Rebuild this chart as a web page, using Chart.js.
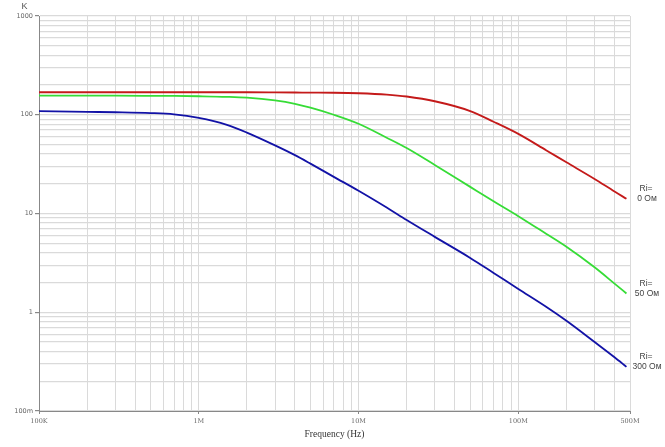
<!DOCTYPE html>
<html lang="ru">
<head>
  <meta charset="UTF-8">
  <title>K(f)</title>
  <script src="https://cdn.jsdelivr.net/npm/chart.js"></script>
  <style>
    body { margin: 0; padding: 0; background: #fff; }
    #wrap { width: 665px; height: 447px; }
  </style>
</head>
<body>
  <div id="wrap"><canvas id="grafico"></canvas></div>
  <script>
    // частоты, Гц
    const freqs = [1e5, 2e5, 3e5, 5e5, 7e5, 1e6, 1.5e6, 2e6, 3e6, 4e6, 5e6, 7e6, 1e7, 1.5e7, 2e7, 3e7, 5e7, 7e7, 1e8, 1.5e8, 2e8, 3e8, 4e8, 4.75e8];
    const k0 = [169, 169, 169, 169, 169, 169, 169, 169, 168.5, 168, 167.5, 167, 165, 160, 153, 137, 109, 85, 64, 43.5, 33, 22.4, 16.7, 14.1];
    const k50 = [156, 156, 156, 155.5, 155, 154, 152, 149, 139.5, 129, 118, 100, 81, 58.5, 46, 31, 18.6, 13.3, 9.4, 6.2, 4.6, 2.85, 1.95, 1.55];
    const k300 = [109, 107, 106, 104, 101, 93, 79, 66, 49, 39, 32, 23.5, 17, 11.5, 8.6, 5.8, 3.55, 2.5, 1.72, 1.13, 0.82, 0.5, 0.35, 0.28];
    const seriesNames = [['Ri=', '0 Ом'], ['Ri=', '50 Ом'], ['Ri=', '300 Ом']];

    const xLabels = {1e5: '100K', 1e6: '1M', 1e7: '10M', 1e8: '100M', 5e8: '500M'};
    const yLabels = {0.1: '100m', 1: '1', 10: '10', 100: '100', 1000: '1000'};

    function decadeTicks(min, max) {
      const out = [];
      for (let e = Math.floor(Math.log10(min)); e <= Math.ceil(Math.log10(max)); e++) {
        for (let s = 1; s < 10; s++) {
          const v = +(s * Math.pow(10, e)).toPrecision(6);
          if (v >= min && v <= max) out.push({value: v});
        }
      }
      return out;
    }

    const endLabels = {
      id: 'endLabels',
      afterDraw(chart) {
        const ctx = chart.ctx;
        ctx.save();
        ctx.font = '8.5px "Liberation Sans", Arial, sans-serif';
        ctx.fillStyle = '#444';
        ctx.textAlign = 'center';
        ctx.textBaseline = 'middle';
        chart.data.datasets.forEach((ds, i) => {
          const pts = chart.getDatasetMeta(i).data;
          const y = pts[pts.length - 1].y;
          const x = chart.chartArea.right + 17;
          ctx.fillText(seriesNames[i][0], x - 1, y - 10);
          ctx.fillText(seriesNames[i][1], x, y);
        });
        ctx.font = '9px "Liberation Sans", Arial, sans-serif';
        ctx.fillStyle = '#555';
        ctx.fillText('K', 24.5, 6.5);
        ctx.restore();
      }
    };

    const tickMark = ctx => (ctx.tick && (xLabels[ctx.tick.value] || yLabels[ctx.tick.value])) ? '#888' : 'rgba(0,0,0,0)';

    new Chart(document.getElementById('grafico'), {
      type: 'line',
      data: {
        datasets: [
          { data: freqs.map((f, i) => ({x: f, y: k0[i]})), borderColor: '#c41a1a' },
          { data: freqs.map((f, i) => ({x: f, y: k50[i]})), borderColor: '#36dc36' },
          { data: freqs.map((f, i) => ({x: f, y: k300[i]})), borderColor: '#1212a6' }
        ]
      },
      options: {
        responsive: true,
        maintainAspectRatio: false,
        animation: false,
        devicePixelRatio: 1,
        layout: { padding: { top: 16, right: 35, left: 0, bottom: 0 } },
        elements: {
          point: { radius: 0 },
          line: { borderWidth: 1.8, cubicInterpolationMode: 'monotone', fill: false }
        },
        plugins: { legend: { display: false }, tooltip: { enabled: false } },
        scales: {
          x: {
            type: 'logarithmic',
            min: 1e5,
            max: 5e8,
            afterBuildTicks: s => { s.ticks = decadeTicks(1e5, 5e8); },
            afterFit: s => { s.height = 36; },
            grid: { color: '#dadada', lineWidth: 1, tickLength: 3, tickColor: tickMark },
            border: { color: '#888', width: 1 },
            ticks: {
              autoSkip: false, maxRotation: 0, padding: 3,
              color: '#666',
              font: { family: '"DejaVu Serif", serif', size: 6.5 },
              callback: v => xLabels[v] || ''
            },
            title: {
              display: true, text: 'Frequency (Hz)', color: '#333',
              font: { family: '"Liberation Serif", "Times New Roman", serif', size: 9.5 },
              padding: { top: 0, bottom: 7 }
            }
          },
          y: {
            type: 'logarithmic',
            min: 0.1,
            max: 1000,
            afterBuildTicks: s => { s.ticks = decadeTicks(0.1, 1000); },
            afterFit: s => { s.width = 39; },
            grid: { color: '#dadada', lineWidth: 1.2, tickLength: 4, tickColor: tickMark },
            border: { color: '#888', width: 1 },
            ticks: {
              autoSkip: false, padding: 2,
              color: '#666',
              font: { family: '"DejaVu Sans", sans-serif', size: 6.5 },
              callback: v => yLabels[v] || ''
            }
          }
        }
      },
      plugins: [endLabels]
    });
  </script>
</body>
</html>
